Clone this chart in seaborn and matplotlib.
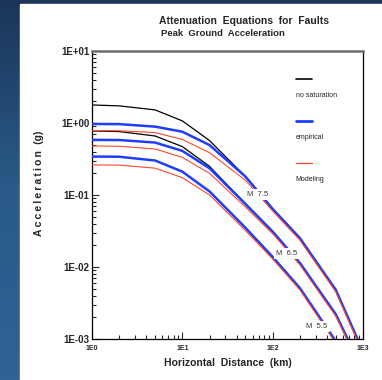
import numpy as np
import pandas as pd
import matplotlib
matplotlib.use("Agg")
import matplotlib.pyplot as plt
import matplotlib.ticker as mticker
from matplotlib.patches import Rectangle
import seaborn as sns

# distances (km)
distance = [1, 2, 5, 10, 20, 50, 100, 200, 500, 1000]

# no saturation
nosat_75 = [1.78, 1.73, 1.52, 1.07, 0.57, 0.18, 0.064, 0.0252, 0.0048, 0.00067]
nosat_65 = [0.776, 0.76, 0.66, 0.47, 0.25, 0.075, 0.031, 0.0114, 0.0022, 0.00036]

# empirical
emp_75 = [0.97, 0.965, 0.89, 0.757, 0.494, 0.18, 0.064, 0.0252, 0.0048, 0.00067]
emp_65 = [0.583, 0.58, 0.535, 0.41, 0.235, 0.075, 0.031, 0.0114, 0.0022, 0.00036]
emp_55 = [0.342, 0.34, 0.301, 0.211, 0.112, 0.035, 0.0138, 0.0051, 0.00093, 0.000155]

# modeling
mod_75 = [0.785, 0.78, 0.736, 0.59, 0.387, 0.16, 0.0598, 0.0236, 0.0045, 0.00063]
mod_65 = [0.48, 0.475, 0.436, 0.333, 0.2, 0.068, 0.029, 0.0107, 0.00207, 0.00034]
mod_55 = [0.262, 0.26, 0.236, 0.174, 0.1, 0.032, 0.0129, 0.0048, 0.00087, 0.000146]

# magnitude labels
mag_labels = ["M  7.5", "M  6.5", "M  5.5"]
mag_x = [69, 144, 310]
mag_y = [0.103, 0.0156, 0.0015]

x_ticks = [1, 10, 100, 1000]
x_ticklabels = ["1E0", "1E1", "1E2", "1E3"]
y_ticks = [1e-3, 1e-2, 1e-1, 1e0, 1e1]
y_ticklabels = ["1E-03", "1E-02", "1E-01", "1E+00", "1E+01"]

legend_labels = ["no saturation", "empirical", "Modeling"]

sns.set_style("ticks")
plt.rcParams['font.family'] = ['Liberation Sans', 'DejaVu Sans']

fig = plt.figure(figsize=(3.82, 3.80), dpi=100)

# background: blue gradient with white panel
bg = fig.add_axes([0, 0, 1, 1], zorder=-10)
grad = np.linspace(0, 1, 100).reshape(-1, 1)
cmap = matplotlib.colors.LinearSegmentedColormap.from_list("bg", ["#1b3659", "#2a5b89", "#2e6394"])
bg.imshow(grad, aspect="auto", cmap=cmap, extent=[0, 1, 0, 1], origin="upper")
bg.add_patch(Rectangle((20 / 382, 0), 1, 376 / 380, color="white", zorder=2))
bg.set_xlim(0, 1)
bg.set_ylim(0, 1)
bg.axis("off")

ax = fig.add_axes([92 / 382, 41 / 380, 271 / 382, 288 / 380])
ax.set_facecolor("white")

black = "#000000"
blue = "#1f3dff"
red = "#ff4a2a"

for ys in [nosat_75, nosat_65]:
    sns.lineplot(x=distance, y=ys, ax=ax, color=black, linewidth=0.9, zorder=2)
for ys in [emp_75, emp_65, emp_55]:
    sns.lineplot(x=distance, y=ys, ax=ax, color=blue, linewidth=1.8, zorder=3)
for ys in [mod_75, mod_65, mod_55]:
    sns.lineplot(x=distance, y=ys, ax=ax, color=red, linewidth=0.8, zorder=4)

ax.set_xscale("log")
ax.set_yscale("log")
ax.set_xlim(1, 1000)
ax.set_ylim(1e-3, 1e1)

for lab, mx, my in zip(mag_labels, mag_x, mag_y):
    ax.text(mx, my, lab, fontsize=5.5, color="#333333", ha="center", va="center", zorder=6,
            bbox=dict(facecolor="white", edgecolor="none", pad=1.5))

# legend: sample line above each label
leg_colors = [black, blue, red]
leg_widths = [1.2, 2.0, 0.9]
leg_y = [0.903, 0.757, 0.611]
for lab, c, lw, ly in zip(legend_labels, leg_colors, leg_widths, leg_y):
    ax.plot([0.751, 0.813], [ly, ly], color=c, linewidth=lw, transform=ax.transAxes, zorder=6)
    ax.text(0.751, ly - 0.058, lab, fontsize=5, color="#222222", ha="left", va="center",
            transform=ax.transAxes)

ax.xaxis.set_major_locator(mticker.FixedLocator(x_ticks))
ax.xaxis.set_major_formatter(mticker.FixedFormatter(x_ticklabels))
ax.yaxis.set_major_locator(mticker.FixedLocator(y_ticks))
ax.yaxis.set_major_formatter(mticker.FixedFormatter(y_ticklabels))
ax.xaxis.set_minor_locator(mticker.LogLocator(base=10, subs=np.arange(2, 10)))
ax.yaxis.set_minor_locator(mticker.LogLocator(base=10, subs=np.arange(2, 10)))
ax.xaxis.set_minor_formatter(mticker.NullFormatter())
ax.yaxis.set_minor_formatter(mticker.NullFormatter())

ax.tick_params(axis="x", which="major", direction="in", length=5, width=0.8, labelsize=5, pad=4)
ax.tick_params(axis="x", which="minor", direction="in", length=3, width=0.8)
ax.tick_params(axis="y", which="major", direction="in", length=5, width=0.8, labelsize=7, pad=2)
ax.tick_params(axis="y", which="minor", direction="in", length=3, width=0.8)
for lab in ax.get_xticklabels() + ax.get_yticklabels():
    lab.set_fontweight("bold")

for side in ["left", "bottom", "right"]:
    ax.spines[side].set_color("black")
    ax.spines[side].set_linewidth(0.9)
ax.spines["top"].set_color("#6e6e6e")
ax.spines["top"].set_linewidth(1.8)

ax.set_xlabel("Horizontal  Distance  (km)", fontsize=7.5, fontweight="bold", labelpad=5)
ylab = "\u2009".join("Acceleration") + "\u2009\u2009\u2009(g)"
ax.set_ylabel(ylab, fontsize=7.5, fontweight="bold")
ax.yaxis.set_label_coords(-0.177, 0.542)

fig.text(159 / 382, 1 - 21 / 380, "Attenuation  Equations  for  Faults", fontsize=7.5, fontweight="bold",
         ha="left", va="center")
fig.text(161 / 382, 1 - 33 / 380, "Peak  Ground  Acceleration", fontsize=6.8, fontweight="bold",
         ha="left", va="center")

fig.savefig("out.png", dpi=100)
